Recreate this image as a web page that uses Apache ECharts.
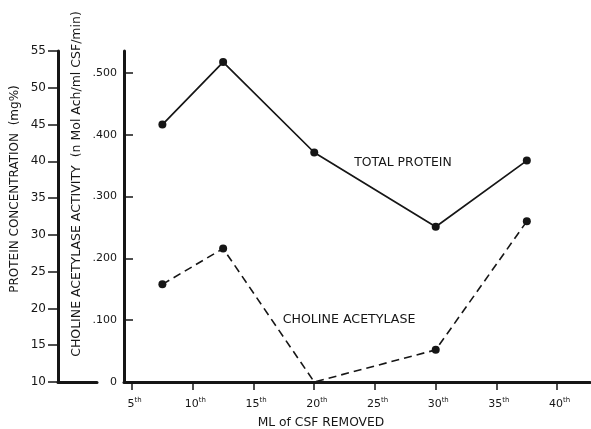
<!DOCTYPE html>
<html><head><meta charset="utf-8">
<script src="https://cdn.jsdelivr.net/npm/echarts@6/dist/echarts.min.js"></script>
<style>html,body{margin:0;padding:0;background:#fff}#c{width:591px;height:429px}</style>
</head><body><div id="c"></div>
<script>
// Data
const mlRemoved = [7.5, 12.5, 20, 30, 37.5];
const totalProtein = [45.0, 53.5, 41.2, 31.1, 40.1];          // mg%
const cholineAcetylase = [0.158, 0.216, 0, 0.052, 0.26];     // n Mol Ach/ml CSF/min
const xTicks = [5, 10, 15, 20, 25, 30, 35, 40];
const cholineTicks = [0, 0.1, 0.2, 0.3, 0.4, 0.5];

const INK = '#161616';
const FONT = 'DejaVu Sans';

const chart = echarts.init(document.getElementById('c'), null, {renderer: 'canvas'});

const proteinData = mlRemoved.map((x, i) => [x, totalProtein[i]]);
const cholineData = mlRemoved.map((x, i) => ({
  value: [x, cholineAcetylase[i]],
  symbol: cholineAcetylase[i] === 0 ? 'none' : 'circle'
}));

chart.setOption({
  animation: false,
  backgroundColor: '#fff',
  grid: [
    {left: 124, right: 1, top: 51, bottom: 47},
    {left: 58, width: 39, top: 51, bottom: 47}
  ],
  xAxis: [
    {
      gridIndex: 0, type: 'value', min: 4.34, max: 42.7,
      splitLine: {show: false},
      axisLine: {show: true, onZero: false, lineStyle: {color: INK, width: 3}},
      axisTick: {show: true, inside: false, length: 8, customValues: xTicks, lineStyle: {color: INK, width: 1.5}},
      axisLabel: {
        customValues: xTicks, margin: 15, color: INK,
        formatter: v => '{n|' + v + '}{s|th}',
        rich: {
          n: {fontFamily: FONT, fontSize: 11, color: INK, lineHeight: 14, padding: [0, 0, 0, 5]},
          s: {fontFamily: FONT, fontSize: 7, color: INK, verticalAlign: 'top', lineHeight: 14, padding: [0, 0, 6, 0]}
        }
      }
    },
    {
      gridIndex: 1, type: 'value', min: 0, max: 1,
      splitLine: {show: false},
      axisLine: {show: true, onZero: false, lineStyle: {color: INK, width: 3}},
      axisTick: {show: false}, axisLabel: {show: false}
    }
  ],
  yAxis: [
    {
      gridIndex: 0, type: 'value', position: 'left', offset: 0,
      min: 0, max: 0.5356,
      splitLine: {show: false},
      axisLine: {show: true, onZero: false, lineStyle: {color: INK, width: 3}},
      axisTick: {show: true, inside: true, length: 9, customValues: cholineTicks, lineStyle: {color: INK, width: 1.5}},
      axisLabel: {
        customValues: cholineTicks, margin: 7, color: INK, fontFamily: FONT, fontSize: 11,
        formatter: v => v === 0 ? '0' : '.' + String(Math.round(v * 1000)).padStart(3, '0')
      }
    },
    {
      gridIndex: 0, type: 'value', position: 'left', offset: 66,
      min: 10, max: 55, interval: 5,
      splitLine: {show: false},
      axisLine: {show: true, onZero: false, lineStyle: {color: INK, width: 3}},
      axisTick: {show: true, inside: false, length: 10, lineStyle: {color: INK, width: 1.5}},
      axisLabel: {margin: 12, color: INK, fontFamily: FONT, fontSize: 12}
    },
    {
      gridIndex: 1, type: 'value', show: false, min: 0, max: 1
    }
  ],
  series: [
    {
      name: 'TOTAL PROTEIN', type: 'line', xAxisIndex: 0, yAxisIndex: 1,
      data: proteinData, symbol: 'circle', symbolSize: 8,
      lineStyle: {color: INK, width: 1.7},
      itemStyle: {color: INK}
    },
    {
      name: 'CHOLINE ACETYLASE', type: 'line', xAxisIndex: 0, yAxisIndex: 0,
      data: cholineData, symbol: 'circle', symbolSize: 8,
      lineStyle: {color: INK, width: 1.6, type: [8, 5]},
      itemStyle: {color: INK}
    }
  ],
  graphic: [
    {type: 'text', x: 15, y: 189, rotation: Math.PI / 2,
     style: {text: 'PROTEIN CONCENTRATION  (mg%)', fill: INK, font: '12px "DejaVu Sans"', align: 'center', verticalAlign: 'middle'}},
    {type: 'text', x: 77, y: 184, rotation: Math.PI / 2,
     style: {text: 'CHOLINE ACETYLASE ACTIVITY  (n Mol Ach/ml CSF/min)', fill: INK, font: '12.5px "DejaVu Sans"', align: 'center', verticalAlign: 'middle'}},
    {type: 'text', x: 321, y: 423,
     style: {text: 'ML of CSF REMOVED', fill: INK, font: '12.3px "DejaVu Sans"', align: 'center', verticalAlign: 'middle'}},
    {type: 'text', x: 403, y: 163,
     style: {text: 'TOTAL PROTEIN', fill: INK, font: '12.4px "DejaVu Sans"', align: 'center', verticalAlign: 'middle'}},
    {type: 'text', x: 349, y: 320,
     style: {text: 'CHOLINE ACETYLASE', fill: INK, font: '12.6px "DejaVu Sans"', align: 'center', verticalAlign: 'middle'}}
  ]
});
</script></body></html>
